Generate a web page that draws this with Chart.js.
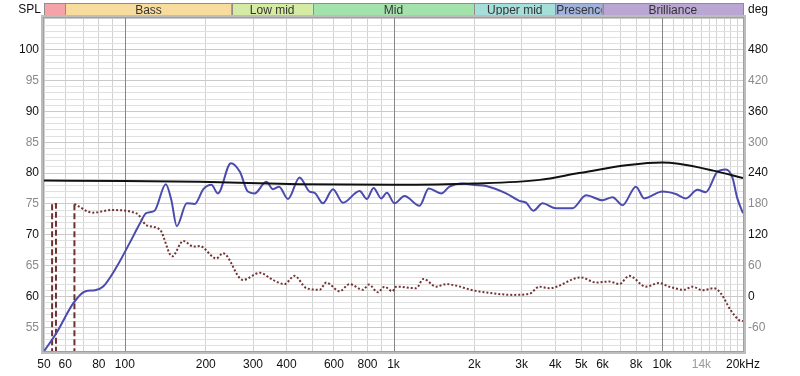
<!DOCTYPE html>
<html>
<head>
<meta charset="utf-8">
<script src="https://cdn.jsdelivr.net/npm/chart.js@4.4.1/dist/chart.umd.min.js"></script>
<style>
    html, body { margin: 0; padding: 0; background: #fff; }
    #wrap { width: 800px; height: 376px; position: relative; }
</style>
</head>
<body>
<div id="wrap"><canvas id="rew"></canvas></div>
<script>
// SPL trace (blue)
const splFreq = [50, 55.7, 64.3, 71, 77.4, 83, 93.2, 104, 114, 120, 129, 142, 149, 156, 170, 182, 196, 210, 222, 248,
    268, 287, 304, 336, 356, 375, 405, 447, 487, 509, 546, 595, 648, 748, 796, 843, 900, 945, 1009, 1099,
    1250, 1353, 1505, 1616, 1810, 1972, 2212, 2625, 2941, 3115, 3316, 3590, 4026, 4641, 5206, 6000, 6538, 7121, 7989, 8574,
    10027, 11245, 12253, 13532, 14538, 16055, 17256, 18259, 19055, 20000];
const splValues = [51.1, 54.1, 58.9, 60.8, 61.0, 61.6, 64.8, 68.6, 71.9, 73.5, 73.9, 78.2, 75.6, 71.4, 75.1, 75.0, 77.4, 78.1, 76.7, 81.6,
    80.2, 77.0, 76.7, 78.6, 77.4, 77.8, 75.8, 79.3, 77.0, 76.8, 75.1, 77.4, 75.2, 77.1, 75.8, 77.6, 75.9, 76.8, 75.1, 76.3,
    74.7, 77.5, 76.7, 77.8, 78.3, 78.1, 77.9, 76.7, 75.5, 75.2, 73.9, 75.1, 74.3, 74.3, 76.4, 75.6, 76.1, 74.8, 77.8, 75.9,
    77.0, 76.6, 75.9, 77.3, 76.9, 80.2, 80.6, 79.3, 75.9, 73.5];

// target curve (black)
const targetFreq = [50, 100, 190, 447, 1000, 2000, 3500, 4900, 7500, 10000, 11500, 15500, 20000];
const targetValues = [78.8, 78.7, 78.6, 78.2, 78.1, 78.3, 78.9, 80.0, 81.3, 81.7, 81.5, 80.4, 79.2];

// phase (deg, right axis)
const phaseFreq = [64.9, 76, 89, 111, 120, 135, 150, 165, 180, 190, 219, 232, 275, 318, 356, 393, 428, 474, 531, 562,
    630, 686, 769, 810, 875, 926, 989, 1024, 1215, 1293, 1442, 1570, 1711, 1972, 2340, 2777, 3205, 3491, 3802, 4987,
    5671, 6355, 6922, 7541, 8700, 9750, 10620, 12075, 12964, 14124, 15610, 16530, 18010, 19330, 20000];
const phaseValues = [180, 163, 168, 161, 139, 130, 78, 108, 97, 98, 74, 84, 32, 46, 32, 24, 40, 16, 13, 27,
    10, 24, 13, 23, 8, 19, 10, 19, 16, 34, 19, 24, 21, 12, 6, 3, 5, 19, 16, 37,
    27, 29, 24, 40, 19, 26, 19, 13, 19, 12, 16, 6, -27, -46, -48];

// phase wrap jumps
const wrapFreq = [53.6, 53.6, 55.4, 55.4, 60, 64.9, 64.9];
const wrapValues = [-200, 180, 180, -200, null, -200, 180];

// axes
const gridFreqs = [50, 60, 70, 80, 90, 100, 200, 300, 400, 500, 600, 700, 800, 900, 1000,
    2000, 3000, 4000, 5000, 6000, 7000, 8000, 9000, 10000,
    11000, 12000, 13000, 14000, 15000, 16000, 17000, 18000, 19000, 20000];
const decadeFreqs = [100, 1000, 10000];
const freqLabelValues = [50, 60, 80, 100, 200, 300, 400, 600, 800, 1000, 2000, 3000, 4000, 5000, 6000, 8000, 10000, 14000, 20000];
const freqLabelTexts = ['50', '60', '80', '100', '200', '300', '400', '600', '800', '1k', '2k', '3k', '4k', '5k', '6k', '8k', '10k', '14k', '20kHz'];
const splTicks = [55, 60, 65, 70, 75, 80, 85, 90, 95, 100];
const degTicks = [-60, 0, 60, 120, 180, 240, 300, 360, 420, 480];

// frequency bands across the top
const bandNames = ['Sub bass', 'Bass', 'Low mid', 'Mid', 'Upper mid', 'Presence', 'Brilliance'];
const bandEdges = [20, 60, 250, 500, 2000, 4000, 6000, 20000];
const bandColors = ['#F5A3A8', '#F8DC9E', '#D5EAA2', '#A3E2AA', '#A6DED9', '#A0B1DB', '#B9A6D2'];

const FONT = "'Liberation Sans', Arial, sans-serif";
const SPL_MIN = 51.15, SPL_MAX = 105.15;

function pts(xs, ys) {
    return xs.map((x, i) => ({ x: x, y: ys[i] }));
}

const bandPlugin = {
    id: 'bands',
    beforeDatasetsDraw(chart) {
        // decade lines drawn solid over the light grid
        const ctx = chart.ctx;
        const area = chart.chartArea;
        ctx.save();
        ctx.strokeStyle = '#858585';
        ctx.lineWidth = 1;
        decadeFreqs.forEach(f => {
            const x = Math.round(chart.scales.x.getPixelForValue(f)) + 0.5;
            ctx.beginPath();
            ctx.moveTo(x, area.top);
            ctx.lineTo(x, area.bottom);
            ctx.stroke();
        });
        ctx.restore();
    },
    afterDraw(chart) {
        const ctx = chart.ctx;
        const area = chart.chartArea;
        const xs = chart.scales.x;
        const top = 3, h = 12.5;
        ctx.save();
        ctx.font = '12px ' + FONT;
        ctx.textBaseline = 'middle';
        for (let i = 0; i < bandNames.length; i++) {
            const x0 = xs.getPixelForValue(Math.max(bandEdges[i], 50));
            const x1 = xs.getPixelForValue(Math.min(bandEdges[i + 1], 20000));
            ctx.fillStyle = bandColors[i];
            ctx.fillRect(x0, top, x1 - x0, h);
            ctx.strokeStyle = '#8E8E8E';
            ctx.lineWidth = 1;
            ctx.strokeRect(Math.round(x0) + 0.5, top + 0.5, Math.round(x1 - x0), h);
            const w = x1 - x0;
            if (w < 40) continue;
            ctx.save();
            ctx.beginPath();
            ctx.rect(x0 + 1, top, w - 2, h);
            ctx.clip();
            ctx.fillStyle = '#333';
            const tw = ctx.measureText(bandNames[i]).width;
            if (tw > w - 4) {
                ctx.textAlign = 'left';
                ctx.fillText(bandNames[i], x0 + 1, top + h / 2 + 1);
            } else {
                ctx.textAlign = 'center';
                ctx.fillText(bandNames[i], (x0 + x1) / 2, top + h / 2 + 1);
            }
            ctx.restore();
        }
        // SPL / deg captions
        ctx.fillStyle = '#111';
        ctx.textAlign = 'right';
        ctx.fillText('SPL', 41, 10);
        ctx.textAlign = 'left';
        ctx.fillText('deg', 748, 10);

        // plot frame
        ctx.strokeStyle = '#BDBDBD';
        ctx.lineWidth = 3;
        ctx.strokeRect(area.left - 1.5, area.top - 1.5, area.right - area.left + 3, area.bottom - area.top + 3);
        ctx.strokeStyle = '#A0A0A0';
        ctx.lineWidth = 1;
        ctx.strokeRect(area.left - 0.5, area.top - 0.5, area.right - area.left + 1, area.bottom - area.top + 1);
        ctx.restore();
    }
};

const chart = new Chart(document.getElementById('rew'), {
    type: 'line',
    data: {
        datasets: [
            {
                label: 'Target',
                data: pts(targetFreq, targetValues),
                borderColor: '#111111',
                borderWidth: 2,
                yAxisID: 'y',
                cubicInterpolationMode: 'monotone'
            },
            {
                label: 'SPL',
                data: pts(splFreq, splValues),
                borderColor: '#4B4BAE',
                borderWidth: 2,
                yAxisID: 'y',
                cubicInterpolationMode: 'monotone'
            },
            {
                label: 'Phase',
                data: pts(phaseFreq, phaseValues),
                borderColor: '#743232',
                borderWidth: 2,
                borderDash: [2, 2],
                yAxisID: 'y2',
                cubicInterpolationMode: 'monotone'
            },
            {
                label: 'Wrap',
                data: pts(wrapFreq, wrapValues),
                borderColor: '#6E3030',
                borderWidth: 2,
                borderDash: [6, 3],
                yAxisID: 'y2',
                tension: 0,
                spanGaps: false
            }
        ]
    },
    options: {
        responsive: true,
        maintainAspectRatio: false,
        animation: false,
        layout: { padding: { top: 18, left: 0, right: 0, bottom: 0 } },
        elements: { point: { radius: 0 } },
        plugins: { legend: { display: false }, tooltip: { enabled: false } },
        scales: {
            x: {
                type: 'logarithmic',
                min: 50,
                max: 20000,
                border: { display: false },
                afterBuildTicks: (scale) => { scale.ticks = gridFreqs.map(v => ({ value: v })); },
                afterFit: (scale) => { scale.height = 25; },
                grid: {
                    drawTicks: false,
                    color: (c) => decadeFreqs.includes(c.tick.value) ? 'rgba(0,0,0,0)' : '#D2D2D2',
                    lineWidth: 1
                },
                ticks: {
                    autoSkip: false,
                    maxRotation: 0,
                    padding: 6,
                    font: { family: FONT, size: 12 },
                    color: (c) => c.tick.value === 14000 ? '#9A9A9A' : '#111',
                    callback: (v) => {
                        const i = freqLabelValues.indexOf(v);
                        return i >= 0 ? freqLabelTexts[i] : '';
                    }
                }
            },
            y: {
                position: 'left',
                min: SPL_MIN,
                max: SPL_MAX,
                border: { display: false },
                afterBuildTicks: (scale) => {
                    const t = [];
                    for (let v = 52; v <= 105; v++) t.push({ value: v });
                    scale.ticks = t;
                },
                afterFit: (scale) => { scale.width = 44; },
                grid: {
                    drawTicks: false,
                    color: (c) => c.tick.value % 5 === 0 ? '#CACACA' : '#E0E0E0',
                    lineWidth: 1
                },
                ticks: {
                    autoSkip: false,
                    padding: 5,
                    font: { family: FONT, size: 12 },
                    color: (c) => c.tick.value % 10 === 0 ? '#111' : '#8A8A8A',
                    callback: (v) => splTicks.includes(v) ? String(v) : ''
                }
            },
            y2: {
                position: 'right',
                min: (SPL_MIN - 60) * 12,
                max: (SPL_MAX - 60) * 12,
                border: { display: false },
                afterBuildTicks: (scale) => { scale.ticks = degTicks.map(v => ({ value: v })); },
                afterFit: (scale) => { scale.width = 57; },
                grid: { display: false, drawTicks: false },
                ticks: {
                    autoSkip: false,
                    padding: 5,
                    font: { family: FONT, size: 12 },
                    color: (c) => c.tick.value % 120 === 0 ? '#111' : '#8A8A8A'
                }
            }
        }
    },
    plugins: [bandPlugin]
});
</script>
</body>
</html>
